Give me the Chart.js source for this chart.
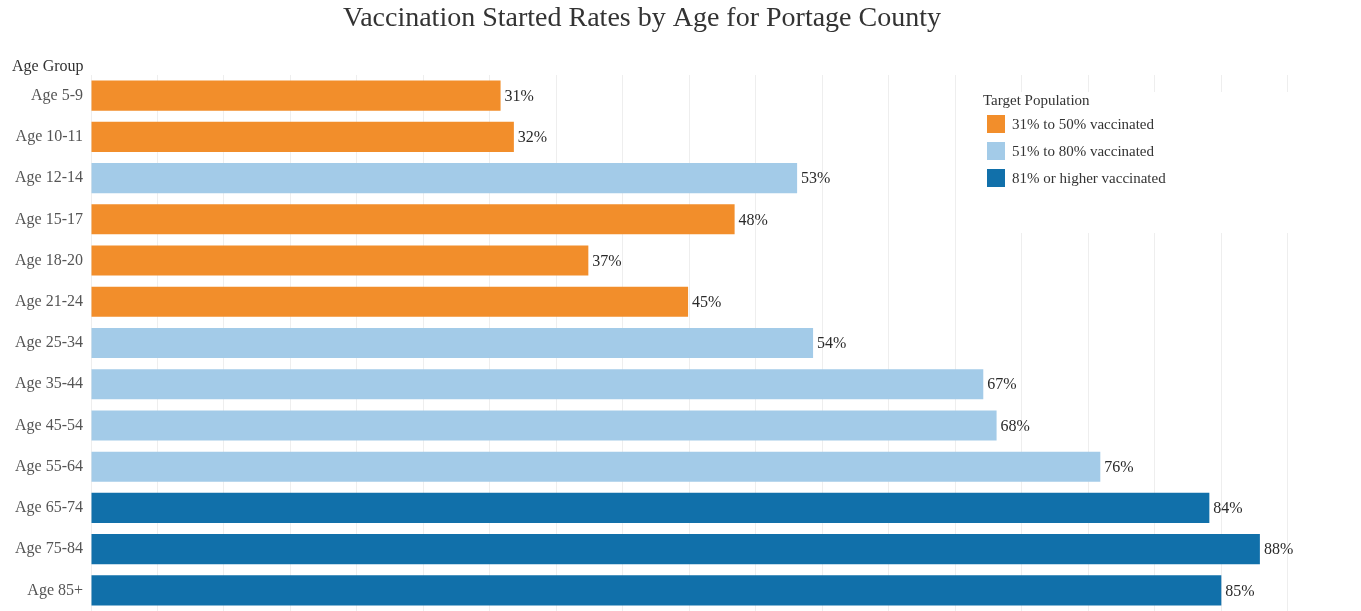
<!DOCTYPE html>
<html>
<head>
<meta charset="utf-8">
<script src="https://cdn.jsdelivr.net/npm/chart.js@4"></script>
<style>
    html, body { margin: 0; padding: 0; background: #ffffff; }
    #wrap { width: 1361px; height: 611px; }
</style>
</head>
<body>
<div id="wrap"><canvas id="grafico"></canvas></div>
<script>
// dados
const ageGroups = ["Age 5-9", "Age 10-11", "Age 12-14", "Age 15-17", "Age 18-20", "Age 21-24",
    "Age 25-34", "Age 35-44", "Age 45-54", "Age 55-64", "Age 65-74", "Age 75-84", "Age 85+"];
const startedRates = [30.8, 31.8, 53.1, 48.4, 37.4, 44.9, 54.3, 67.1, 68.1, 75.9, 84.1, 87.9, 85.0];
// grupo de cada faixa (indice em legendLabels)
const rateGroup = [0, 0, 1, 0, 0, 0, 1, 1, 1, 1, 2, 2, 2];
const legendLabels = ["31% to 50% vaccinated", "51% to 80% vaccinated", "81% or higher vaccinated"];
const groupColors = ["#f28e2b", "#a3cbe8", "#1170aa"];

const serif = "'Liberation Serif', 'Times New Roman', serif";

// rotulos de valor ao lado das barras
const valueLabels = {
    id: "valueLabels",
    afterDatasetsDraw(chart) {
        const ctx = chart.ctx;
        const meta = chart.getDatasetMeta(0);
        ctx.save();
        ctx.font = "16px " + serif;
        ctx.fillStyle = "#2a2a2a";
        ctx.textAlign = "left";
        ctx.textBaseline = "middle";
        meta.data.forEach((bar, i) => {
            ctx.fillText(Math.round(startedRates[i]) + "%", bar.x + 4, bar.y + 1);
        });
        ctx.restore();
    }
};

// titulo, titulo do eixo e legenda flutuante
const extras = {
    id: "extras",
    afterDraw(chart) {
        const ctx = chart.ctx;
        ctx.save();
        ctx.textBaseline = "middle";
        ctx.textAlign = "center";
        ctx.font = "28px " + serif;
        ctx.fillStyle = "#333333";
        ctx.fillText("Vaccination Started Rates by Age for Portage County", 642, 19);

        ctx.textAlign = "left";
        ctx.font = "16px " + serif;
        ctx.fillText("Age Group", 12, 67);

        // caixa da legenda
        ctx.fillStyle = "#ffffff";
        ctx.fillRect(960, 92, 329, 141);
        ctx.font = "15px " + serif;
        ctx.fillStyle = "#333333";
        ctx.fillText("Target Population", 983, 101);
        legendLabels.forEach((label, i) => {
            const cy = 124 + i * 27;
            ctx.fillStyle = groupColors[i];
            ctx.fillRect(987, cy - 9, 18, 18);
            ctx.fillStyle = "#333333";
            ctx.fillText(label, 1012, cy + 1);
        });
        ctx.restore();
    }
};

new Chart(document.getElementById("grafico").getContext("2d"), {
    type: "bar",
    data: {
        labels: ageGroups,
        datasets: [{
            data: startedRates,
            backgroundColor: rateGroup.map(g => groupColors[g]),
            borderWidth: 0,
            categoryPercentage: 1,
            barPercentage: 0.73
        }]
    },
    options: {
        indexAxis: "y",
        responsive: true,
        maintainAspectRatio: false,
        animation: false,
        layout: { padding: { left: 0, right: 20, top: 75, bottom: 0 } },
        plugins: {
            legend: { display: false },
            tooltip: { enabled: false },
            title: { display: false }
        },
        scales: {
            x: {
                min: 0,
                max: 94,
                ticks: { display: false, stepSize: 5 },
                border: { display: false },
                grid: {
                    drawTicks: false,
                    color: c => (c.tick && c.tick.value % 5 === 0) ? "#eeeeee" : "rgba(0,0,0,0)",
                    lineWidth: 1
                },
                afterFit(scale) { scale.height = 0; }
            },
            y: {
                border: { display: false },
                grid: { display: false, drawTicks: false },
                ticks: {
                    color: "#555555",
                    padding: 8,
                    font: { family: serif, size: 16 }
                },
                afterFit(scale) {
                    scale.width = 91;
                    scale.paddingTop = 0;
                    scale.paddingBottom = 0;
                }
            }
        }
    },
    plugins: [valueLabels, extras]
});
</script>
</body>
</html>
